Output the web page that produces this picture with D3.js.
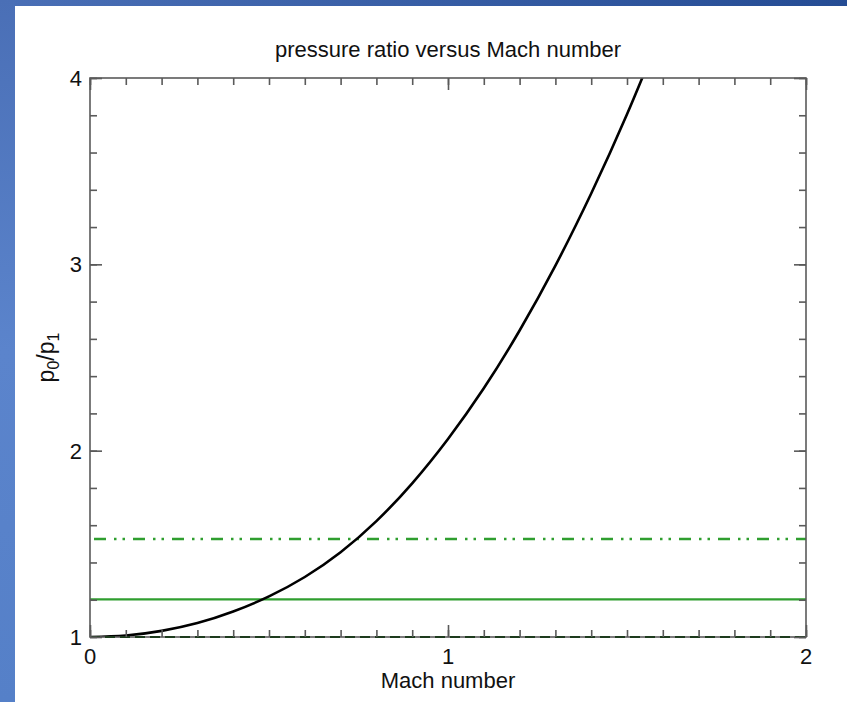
<!DOCTYPE html>
<html><head><meta charset="utf-8">
<script src="https://cdn.jsdelivr.net/npm/d3@7"></script>
<style>body{margin:0;padding:0;overflow:hidden;background:#fff}</style>
</head><body>
<script>
// ---- data ----
const mach = [0, 0.1, 0.2, 0.3, 0.4, 0.5, 0.6, 0.7, 0.8, 0.9, 1.0, 1.1, 1.2, 1.3, 1.4, 1.5, 1.6];
const ratio = [1.000, 1.008, 1.033, 1.075, 1.137, 1.218, 1.322, 1.455, 1.622, 1.825, 2.063, 2.335, 2.645, 2.993, 3.380, 3.805, 4.270];
const refSolid = 1.202;     // green solid line
const refDashDot = 1.526;   // green dash-dot-dot line
const refDashed = 1.0;      // dark dashed line
const xMajor = [0, 1, 2];
const yMajor = [1, 2, 3, 4];
const title = "pressure ratio versus Mach number";
const xTitle = "Mach number";

const W = 847, H = 702;
const svg = d3.select("body").append("svg").attr("width", W).attr("height", H);
const defs = svg.append("defs");
const g1 = defs.append("linearGradient").attr("id","frameL").attr("x1",0).attr("y1",0).attr("x2",0).attr("y2",1);
g1.append("stop").attr("offset",0).attr("stop-color","#4a6fb6");
g1.append("stop").attr("offset",0.5).attr("stop-color","#5b84cc");
g1.append("stop").attr("offset",1).attr("stop-color","#5580c8");
const g2 = defs.append("linearGradient").attr("id","frameT").attr("x1",0).attr("y1",0).attr("x2",1).attr("y2",0);
g2.append("stop").attr("offset",0).attr("stop-color","#4a6fb6");
g2.append("stop").attr("offset",1).attr("stop-color","#254c94");
svg.append("rect").attr("x",0).attr("y",0).attr("width",W).attr("height",H).attr("fill","#fff");
svg.append("rect").attr("x",0).attr("y",0).attr("width",W).attr("height",6).attr("fill","url(#frameT)");
svg.append("rect").attr("x",0).attr("y",0).attr("width",15).attr("height",H).attr("fill","url(#frameL)");

const L = 90, R = 806, T = 78, B = 637;
const x = d3.scaleLinear().domain([0, 2]).range([L, R]);
const y = d3.scaleLinear().domain([1, 4]).range([B, T]);
const axisCol = "#5a5a5a";
const font = "'Liberation Sans', Arial, sans-serif";

defs.append("clipPath").attr("id","plot").append("rect")
  .attr("x",L).attr("y",T).attr("width",R-L).attr("height",B-T);

const plot = svg.append("g").attr("clip-path","url(#plot)");

// reference lines
plot.append("line").attr("x1",x(0)).attr("x2",x(2)).attr("y1",y(refSolid)).attr("y2",y(refSolid))
  .attr("stroke","#2f9e2f").attr("stroke-width",2.2);
plot.append("line").attr("x1",x(0)).attr("x2",x(2)).attr("y1",y(refDashDot)).attr("y2",y(refDashDot))
  .attr("stroke","#2f9e2f").attr("stroke-width",2.6)
  .attr("stroke-dasharray","12,8,2.5,6,2.5,8").attr("stroke-dashoffset",-4);

// curve
const line = d3.line().x((d,i)=>x(mach[i])).y(d=>y(d)).curve(d3.curveNatural);
plot.append("path").attr("d", line(ratio)).attr("fill","none")
  .attr("stroke","#000").attr("stroke-width",2.6);

// frame
svg.append("rect").attr("x",L).attr("y",T).attr("width",R-L).attr("height",B-T)
  .attr("fill","none").attr("stroke",axisCol).attr("stroke-width",1.6);

// dashed line at 1 (over bottom axis)
svg.append("line").attr("x1",x(0)).attr("x2",x(2)).attr("y1",y(refDashed)).attr("y2",y(refDashed))
  .attr("stroke","#1d3b1d").attr("stroke-width",2.2).attr("stroke-dasharray","10,5");

// ticks via d3 axes
const xMinor = d3.range(0, 21).map(i => i/10);
const yMinor = d3.range(0, 16).map(i => 1 + i/5);
function styleAxis(sel){
  sel.select(".domain").remove();
  sel.selectAll(".tick line").attr("stroke",axisCol).attr("stroke-width",1.6);
  sel.selectAll("text").remove();
}
svg.append("g").attr("transform",`translate(0,${B})`)
  .call(d3.axisTop(x).tickValues(xMinor).tickSize(7)).call(styleAxis);
svg.append("g").attr("transform",`translate(0,${B})`)
  .call(d3.axisTop(x).tickValues(xMajor).tickSize(12)).call(styleAxis);
svg.append("g").attr("transform",`translate(0,${T})`)
  .call(d3.axisBottom(x).tickValues(xMinor).tickSize(7)).call(styleAxis);
svg.append("g").attr("transform",`translate(0,${T})`)
  .call(d3.axisBottom(x).tickValues(xMajor).tickSize(12)).call(styleAxis);
svg.append("g").attr("transform",`translate(${L},0)`)
  .call(d3.axisRight(y).tickValues(yMinor).tickSize(7)).call(styleAxis);
svg.append("g").attr("transform",`translate(${L},0)`)
  .call(d3.axisRight(y).tickValues(yMajor).tickSize(12)).call(styleAxis);
svg.append("g").attr("transform",`translate(${R},0)`)
  .call(d3.axisLeft(y).tickValues(yMinor).tickSize(7)).call(styleAxis);
svg.append("g").attr("transform",`translate(${R},0)`)
  .call(d3.axisLeft(y).tickValues(yMajor).tickSize(12)).call(styleAxis);

// tick labels
svg.append("g").selectAll("text").data(xMajor).join("text")
  .attr("x", d=>x(d)).attr("y", B+27).attr("text-anchor","middle")
  .attr("font-family",font).attr("font-size",22).attr("fill","#111").text(d=>d);
svg.append("g").selectAll("text").data(yMajor).join("text")
  .attr("x", L-8).attr("y", d=>y(d)+8).attr("text-anchor","end")
  .attr("font-family",font).attr("font-size",22).attr("fill","#111").text(d=>d);

// titles
svg.append("text").attr("x",(L+R)/2).attr("y",57).attr("text-anchor","middle")
  .attr("font-family",font).attr("font-size",22).attr("fill","#111").text(title);
svg.append("text").attr("x",(L+R)/2).attr("y",688).attr("text-anchor","middle")
  .attr("font-family",font).attr("font-size",22).attr("fill","#111").text(xTitle);

const yl = svg.append("text").attr("transform",`translate(54,${(T+B)/2}) rotate(-90)`)
  .attr("text-anchor","middle").attr("font-family",font).attr("font-size",23).attr("fill","#111");
yl.append("tspan").text("p");
yl.append("tspan").attr("font-size",16).attr("dy",5).text("0");
yl.append("tspan").attr("dy",-5).text("/p");
yl.append("tspan").attr("font-size",16).attr("dy",5).text("1");
</script>
</body></html>
